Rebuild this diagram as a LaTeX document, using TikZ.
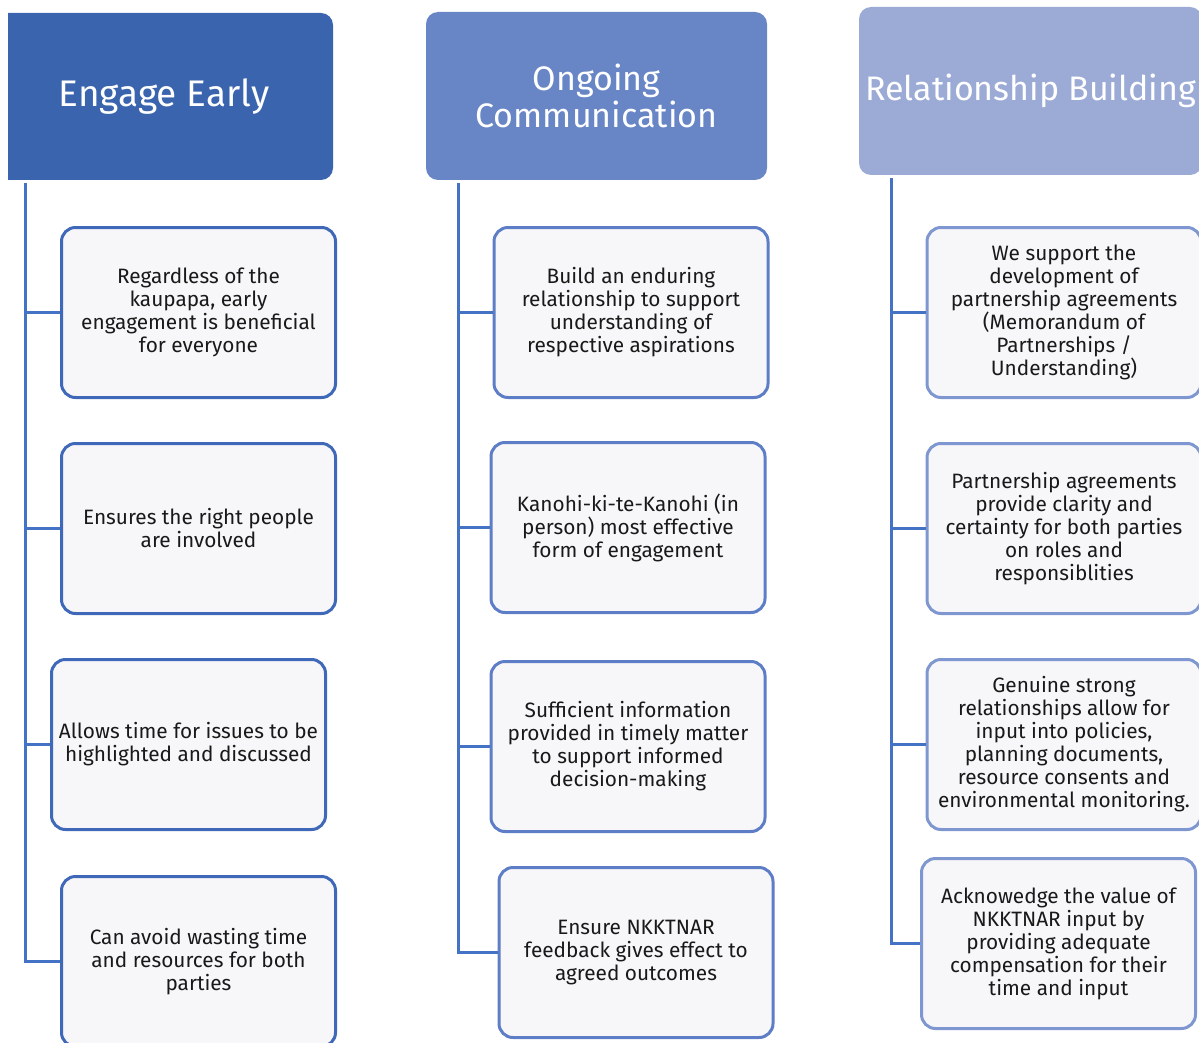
\documentclass[tikz,border=0pt]{standalone}
\usepackage{fontspec}
\setmainfont{Fira Sans}
\usetikzlibrary{positioning}

\definecolor{hdrA}{HTML}{3A64AE}
\definecolor{hdrB}{HTML}{6886C6}
\definecolor{hdrC}{HTML}{9BABD6}
\definecolor{edgeA}{HTML}{3F69B8}
\definecolor{edgeB}{HTML}{5D7DC6}
\definecolor{edgeC}{HTML}{7F97D0}
\definecolor{lineblue}{HTML}{4472C4}
\definecolor{boxfill}{HTML}{F7F7F9}

\tikzstyle{hdr}=[rectangle,rounded corners=12pt,text=white,minimum width=341pt,minimum height=168pt,inner sep=0pt,align=center,font=\fontsize{34}{37}\selectfont]
\tikzstyle{item}=[rectangle,rounded corners=14pt,draw,line width=3pt,fill=boxfill,minimum width=274pt,minimum height=170pt,inner sep=0pt,align=center,text=black!90,font=\fontsize{20.8}{23}\selectfont]
\tikzstyle{conn}=[draw=lineblue,line width=3pt]

\begin{document}
\begin{tikzpicture}[x=1pt,y=-1pt]
  \useasboundingbox (0,0) rectangle (1199,1043);

  % headers (the first one runs off its left edge)
  \begin{scope}
    \clip (8,0) rectangle (1199,1043);
    \node[hdr,fill=hdrA,minimum width=338pt,minimum height=167pt,font=\fontsize{37}{40}\selectfont] (h_1) at (164,96.5) {Engage Early};
  \end{scope}
  \node[hdr,fill=hdrB] (h_2) at (596.5,96) {Ongoing\\Communication};
  \node[hdr,fill=hdrC,minimum width=343pt] (h_3) at (1030.5,91) {Relationship Building};

  % Engage Early
  \node[item,draw=edgeA] (e_11) at (198.5,312.5) {Regardless of the\\kaupapa, early\\engagement is beneficial\\for everyone};
  \node[item,draw=edgeA] (e_12) at (198.5,528.5) {Ensures the right people\\are involved};
  \node[item,draw=edgeA] (e_13) at (188.5,744.5) {Allows time for issues to be\\highlighted and discussed};
  \node[item,draw=edgeA] (e_14) at (198.5,961.5) {Can avoid wasting time\\and resources for both\\parties};

  % Ongoing Communication
  \node[item,draw=edgeB] (e_21) at (631,312.5) {Build an enduring\\relationship to support\\understanding of\\respective aspirations};
  \node[item,draw=edgeB] (e_22) at (628,527.5) {Kanohi-ki-te-Kanohi (in\\person) most effective\\form of engagement};
  \node[item,draw=edgeB] (e_23) at (628,746.5) {Sufficient information\\provided in timely matter\\to support informed\\decision-making};
  \node[item,draw=edgeB] (e_24) at (636,952.5) {Ensure NKKTNAR\\feedback gives effect to\\agreed outcomes};

  % Relationship Building
  \node[item,draw=edgeC] (e_31) at (1064,312.5) {We support the\\development of\\partnership agreements\\(Memorandum of\\Partnerships /\\Understanding)};
  \node[item,draw=edgeC] (e_32) at (1064,528.5) {Partnership agreements\\provide clarity and\\certainty for both parties\\on roles and\\responsiblities};
  \node[item,draw=edgeC] (e_33) at (1064,744.5) {Genuine strong\\relationships allow for\\input into policies,\\planning documents,\\resource consents and\\environmental monitoring.};
  \node[item,draw=edgeC] (e_34) at (1058.5,943.5) {Acknowedge the value of\\NKKTNAR input by\\providing adequate\\compensation for their\\time and input};

  % trunk lines
  \coordinate (t_1) at (25,183);
  \coordinate (t_2) at (458,183);
  \coordinate (t_3) at (891,178);

  \draw[conn] (t_1) |- (e_14.west);
  \draw[conn] (t_1 |- e_11.west) -- (e_11.west);
  \draw[conn] (t_1 |- e_12.west) -- (e_12.west);
  \draw[conn] (t_1 |- e_13.west) -- (e_13.west);

  \draw[conn] (t_2) |- (e_24.west);
  \draw[conn] (t_2 |- e_21.west) -- (e_21.west);
  \draw[conn] (t_2 |- e_22.west) -- (e_22.west);
  \draw[conn] (t_2 |- e_23.west) -- (e_23.west);

  \draw[conn] (t_3) |- (e_34.west);
  \draw[conn] (t_3 |- e_31.west) -- (e_31.west);
  \draw[conn] (t_3 |- e_32.west) -- (e_32.west);
  \draw[conn] (t_3 |- e_33.west) -- (e_33.west);
\end{tikzpicture}
\end{document}
